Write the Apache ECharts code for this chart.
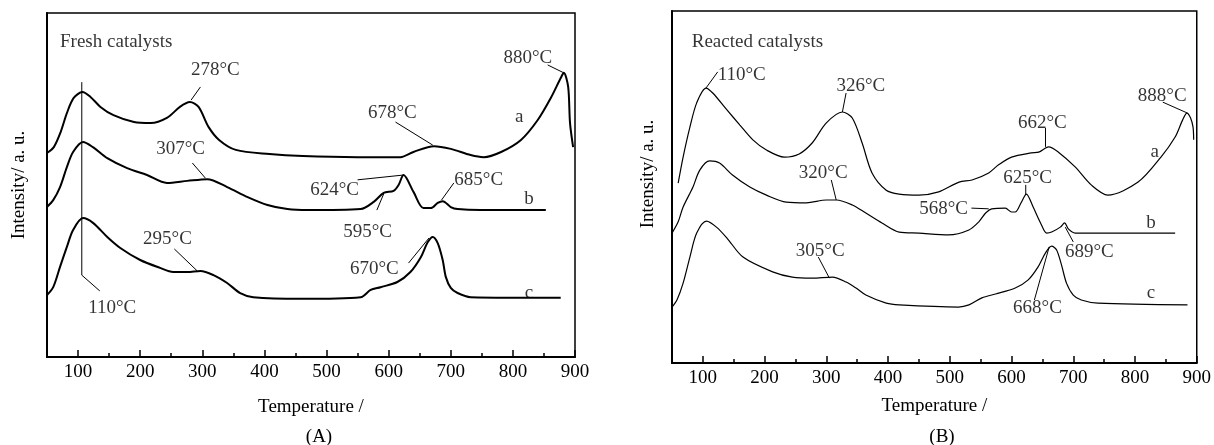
<!DOCTYPE html>
<html>
<head>
<meta charset="utf-8">
<script src="https://cdn.jsdelivr.net/npm/echarts@6/dist/echarts.min.js"></script>
<style>
  html, body { margin: 0; padding: 0; background: #fff; }
  #chart { width: 1214px; height: 445px; }
</style>
</head>
<body>
<div id="chart"></div>
<script>
// [temperature °C, intensity a.u.]
const freshA = [
  [50, 59.3], [61, 61.0], [72, 65.4], [82, 70.9], [93, 75.3], [107, 77.0], [120, 75.6],
  [136, 72.7], [157, 70.3], [190, 68.3], [217, 68.0], [243, 69.5], [264, 72.7], [280, 74.1],
  [294, 72.7], [310, 66.9], [327, 63.1], [354, 60.2], [408, 59.0], [462, 58.4], [550, 58.1],
  [619, 58.1], [640, 59.6], [673, 61.3], [700, 60.5], [732, 58.7], [753, 58.1], [781, 59.6],
  [813, 63.1], [840, 68.9], [861, 75.3], [877, 81.1], [882, 82.6], [889, 78.5], [892, 68.0],
  [897, 61.0]
];
const freshB = [
  [50, 43.6], [60, 45.6], [71, 49.4], [82, 55.2], [92, 59.6], [108, 62.5], [124, 61.0],
  [147, 57.8], [179, 54.9], [211, 52.9], [243, 50.6], [276, 51.2], [308, 51.7], [340, 49.4],
  [373, 46.5], [405, 44.2], [437, 43.0], [470, 42.7], [555, 43.0], [576, 45.1], [592, 47.7],
  [608, 48.3], [616, 50.0], [624, 52.9], [640, 48.0], [656, 43.3], [668, 43.3], [679, 44.8],
  [687, 45.3], [700, 43.6], [711, 43.0], [748, 42.7], [853, 42.7]
];
const freshC = [
  [50, 18.0], [60, 20.3], [71, 26.2], [82, 32.0], [92, 36.9], [108, 40.4], [124, 39.0],
  [147, 34.9], [168, 31.7], [200, 28.2], [232, 25.9], [253, 24.7], [276, 24.7], [297, 25.0],
  [318, 23.8], [340, 21.5], [361, 18.6], [382, 17.4], [458, 16.9], [555, 17.4], [571, 19.5],
  [587, 20.3], [614, 21.8], [635, 24.7], [652, 29.1], [663, 33.4], [671, 34.9], [679, 33.1],
  [687, 28.2], [692, 23.3], [700, 20.1], [711, 18.6], [732, 17.4], [877, 17.2]
];
const reactedA = [
  [60, 51.1], [68, 58.5], [79, 67.0], [90, 73.9], [105, 78.1], [116, 76.7], [139, 71.9],
  [160, 67.6], [181, 63.4], [203, 60.5], [232, 58.5], [256, 59.4], [277, 62.5], [300, 68.2],
  [326, 71.3], [342, 69.6], [358, 62.5], [374, 54.0], [397, 49.1], [418, 48.0], [450, 47.7],
  [482, 48.6], [515, 51.4], [536, 52.0], [563, 54.0], [579, 56.3], [600, 58.5], [632, 59.7],
  [644, 59.9], [660, 61.4], [676, 59.9], [703, 55.7], [729, 50.6], [756, 47.7], [805, 51.4],
  [842, 58.5], [865, 64.2], [877, 69.0], [884, 71.0], [890, 69.6], [894, 67.0], [895, 63.4]
];
const reactedB = [
  [50, 36.9], [60, 40.1], [68, 44.3], [84, 50.0], [95, 54.8], [111, 57.4], [127, 56.8],
  [148, 53.4], [176, 50.0], [203, 47.7], [235, 45.7], [268, 45.5], [300, 46.3], [316, 46.3],
  [342, 44.9], [364, 42.6], [390, 39.8], [418, 37.2], [450, 36.9], [498, 36.4], [531, 37.8],
  [547, 40.1], [558, 42.6], [568, 43.8], [590, 44.0], [600, 42.9], [606, 42.9], [616, 45.7],
  [624, 48.0], [635, 44.3], [647, 39.8], [657, 36.9], [665, 37.2], [679, 38.6], [686, 39.8],
  [692, 38.1], [703, 36.9], [865, 36.9]
];
const reactedC = [
  [50, 15.9], [58, 17.9], [68, 22.7], [79, 30.1], [90, 36.9], [106, 40.3], [122, 38.6],
  [139, 35.5], [165, 30.1], [213, 25.9], [245, 24.4], [277, 24.1], [310, 24.4], [332, 23.0],
  [348, 21.3], [364, 19.3], [397, 17.0], [418, 16.5], [514, 15.9], [531, 16.5], [552, 18.5],
  [574, 19.6], [606, 21.3], [627, 23.6], [643, 27.3], [655, 31.3], [665, 33.2], [673, 32.1],
  [681, 27.8], [689, 22.7], [700, 19.3], [713, 17.9], [740, 17.0], [885, 16.5]
];

const tempTicks = [100, 200, 300, 400, 500, 600, 700, 800, 900];
const minorTicks = [150, 250, 350, 450, 550, 650, 750, 850];

// peak labels: text, anchor [T, I], leader polyline in data units
const freshNotes = [
  { text: 'Fresh catalysts', at: [71, 91.6], align: 'left' },
  { text: '278°C', at: [321, 83.4], leader: [[297, 78.5], [282, 74.7]] },
  { text: '307°C', at: [265, 60.5], leader: [[284, 56.4], [305, 52.0]] },
  { text: '295°C', at: [244, 34.3], leader: [[255, 31.4], [292, 25.0]] },
  { text: '678°C', at: [606, 70.9], leader: [[611, 68.3], [671, 61.6]] },
  { text: '880°C', at: [824, 86.9], leader: [[856, 84.9], [882, 82.6]] },
  { text: '624°C', at: [513, 48.5], leader: [[550, 51.5], [624, 52.9]] },
  { text: '595°C', at: [566, 36.3], leader: [[581, 42.7], [592, 47.4]] },
  { text: '685°C', at: [745, 51.5], leader: [[705, 50.6], [685, 45.6]] },
  { text: '670°C', at: [577, 25.6], leader: [[632, 27.3], [665, 34.6]] },
  { text: '110°C', at: [155, 14.2], leader: [[106, 79.9], [106, 23.8], [135, 19.2]] },
  { text: 'a', at: [810, 69.8] },
  { text: 'b', at: [826, 45.9] },
  { text: 'c', at: [826, 18.6] }
];
const reactedNotes = [
  { text: 'Reacted catalysts', at: [82, 91.2], align: 'left' },
  { text: '110°C', at: [163, 81.8], leader: [[124, 82.7], [105, 78.1]] },
  { text: '326°C', at: [356, 78.7], leader: [[332, 76.7], [326, 71.3]] },
  { text: '320°C', at: [295, 54.0], leader: [[308, 52.0], [316, 46.3]] },
  { text: '662°C', at: [650, 68.2], leader: [[655, 66.8], [655, 61.4]] },
  { text: '888°C', at: [844, 75.9], leader: [[845, 74.1], [885, 71.0]] },
  { text: '625°C', at: [626, 52.6], leader: [[623, 50.6], [623, 47.7]] },
  { text: '568°C', at: [490, 43.8], leader: [[535, 44.0], [563, 43.8]] },
  { text: '689°C', at: [726, 31.5], leader: [[700, 34.4], [687, 38.6]] },
  { text: '668°C', at: [642, 15.6], leader: [[637, 17.9], [661, 33.0]] },
  { text: '305°C', at: [290, 31.8], leader: [[287, 30.1], [305, 24.1]] },
  { text: 'a', at: [832, 59.9] },
  { text: 'b', at: [826, 39.8] },
  { text: 'c', at: [826, 19.9] }
];

const FONT = '"Liberation Serif", "Times New Roman", serif';
const FS = 19;

const panels = [
  { grid: { left: 47, top: 13, width: 528, height: 344 }, curves: [freshA, freshB, freshC],
    width: 2, notes: freshNotes, xGap: 41, yGap: 18, yPad: [0, 0, 0, 0], tag: '(A)', tagX: 319 },
  { grid: { left: 672, top: 11, width: 527, height: 352 }, curves: [reactedA, reactedB, reactedC],
    width: 1.2, notes: reactedNotes, xGap: 34, yGap: 14, yPad: [0, 0, 0, 26], tag: '(B)', tagX: 942 }
];

const chart = echarts.init(document.getElementById('chart'));
const grids = [], xAxes = [], yAxes = [], series = [], graphics = [];

panels.forEach((p, i) => {
  grids.push(Object.assign({ show: true, borderColor: '#000', borderWidth: 1.5 }, p.grid));
  xAxes.push({
    type: 'value', gridIndex: i, min: 50, max: 900,
    name: 'Temperature /', nameLocation: 'middle', nameGap: p.xGap,
    nameTextStyle: { fontFamily: FONT, fontSize: FS, color: '#000' },
    axisLine: { show: true, onZero: false, lineStyle: { color: '#000', width: 2 } },
    axisTick: { show: true, inside: true, length: 7, customValues: tempTicks, lineStyle: { color: '#000', width: 1.5 } },
    axisLabel: { customValues: tempTicks, margin: 6, fontFamily: FONT, fontSize: FS, color: '#000' },
    splitLine: { show: false }
  });
  xAxes.push({
    type: 'value', gridIndex: i, min: 50, max: 900, position: 'bottom',
    axisLine: { show: false },
    axisTick: { show: true, inside: true, length: 4, customValues: minorTicks, lineStyle: { color: '#000', width: 1.5 } },
    axisLabel: { show: false },
    splitLine: { show: false }
  });
  yAxes.push({
    type: 'value', gridIndex: i, min: 0, max: 100,
    name: 'Intensity/ a. u.', nameLocation: 'middle', nameRotate: 90, nameGap: p.yGap,
    nameTextStyle: { fontFamily: FONT, fontSize: FS, color: '#000', padding: p.yPad },
    axisLine: { show: true, onZero: false, lineStyle: { color: '#000', width: 2 } },
    axisTick: { show: false },
    axisLabel: { show: false },
    splitLine: { show: false }
  });

  p.curves.forEach(c => {
    series.push({
      type: 'line', xAxisIndex: 2 * i, yAxisIndex: i, data: c,
      showSymbol: false, smooth: 0.3, silent: true,
      lineStyle: { color: '#000', width: p.width }
    });
  });

  series.push({
    type: 'lines', coordinateSystem: 'cartesian2d', xAxisIndex: 2 * i, yAxisIndex: i,
    polyline: true, silent: true,
    lineStyle: { color: '#000', width: 1, opacity: 1 },
    data: p.notes.filter(n => n.leader).map(n => ({ coords: n.leader }))
  });

  series.push({
    type: 'scatter', xAxisIndex: 2 * i, yAxisIndex: i, symbolSize: 0, silent: true,
    data: p.notes.map(n => ({
      value: n.at,
      label: {
        show: true, formatter: n.text, position: n.align === 'left' ? 'right' : 'inside',
        distance: 0, color: '#000', fontFamily: FONT, fontSize: FS
      }
    }))
  });

  graphics.push({
    type: 'text', x: p.tagX, y: 437,
    style: { text: p.tag, font: FS + 'px ' + FONT, fill: '#000', align: 'center', verticalAlign: 'middle' }
  });
});

chart.setOption({
  animation: false,
  backgroundColor: '#fff',
  grid: grids,
  xAxis: xAxes,
  yAxis: yAxes,
  series: series,
  graphic: graphics
});
</script>
</body>
</html>
